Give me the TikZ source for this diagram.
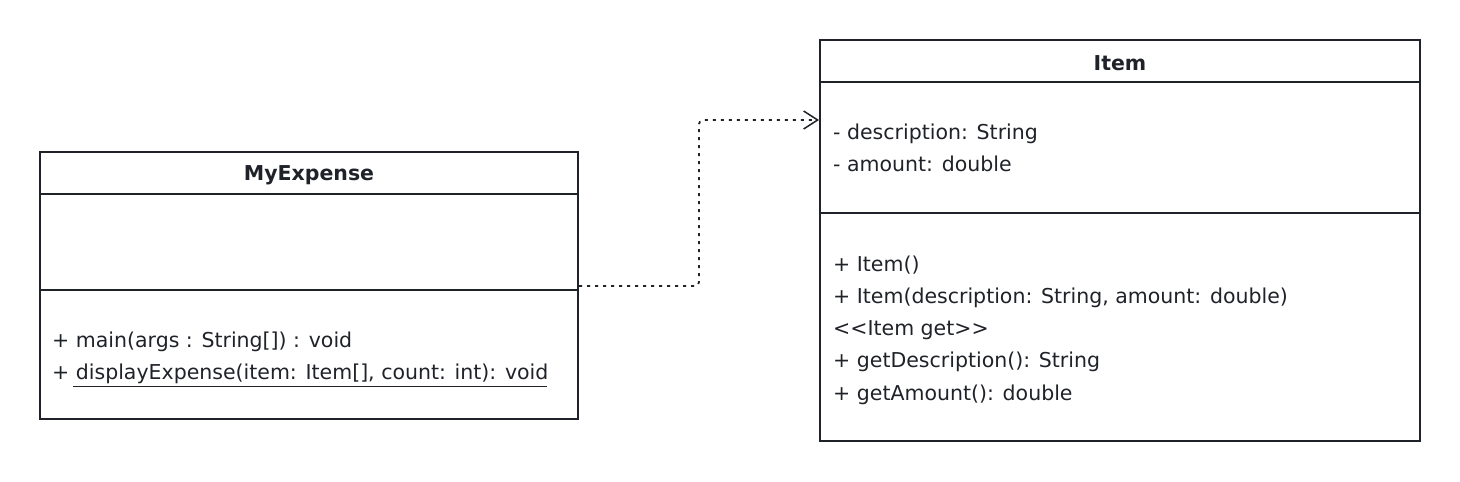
\documentclass[tikz,border=0pt]{standalone}
\usepackage{fontspec}
\setmainfont{DejaVu Sans}
\usetikzlibrary{arrows.meta}
\definecolor{ink}{HTML}{1F2228}
\tikzset{
  box/.style={draw=ink, line width=1.6pt, fill=none, inner sep=0pt, outer sep=0pt},
  sepline/.style={draw=ink, line width=1.6pt},
  title/.style={font=\fontsize{20.5}{24}\selectfont\bfseries, text=ink, inner sep=0pt},
  member/.style={font=\fontsize{20.5}{24}\selectfont, text=ink, inner sep=0pt, anchor=base west},
  dep/.style={draw=ink, line width=1.8pt, dash pattern=on 3pt off 5pt, rounded corners=4pt,
     -{Straight Barb[length=14pt,width=18pt,line width=1.5pt]}},
}
\begin{document}
\begin{tikzpicture}[x=1pt,y=-1pt]
\useasboundingbox (0,0) rectangle (1460,482);
% MyExpense
\node[box, minimum width=538pt, minimum height=267pt, anchor=north west] (mye) at (40,152) {};
\draw[sepline] (40,194) -- (578,194);
\draw[sepline] (40,290) -- (578,290);
\node[title] (myet) at (309,175) {MyExpense};
\node[member] (m1) at (52,347) {+ main(args : String[]) : void};
\node[member] (m2) at (52,379) {+ displayExpense(item: Item[], count: int): void};
\draw[ink, line width=1pt] (73,386) -- (547,386);
% Item
\node[box, minimum width=600pt, minimum height=401pt, anchor=north west] (item) at (820,40) {};
\draw[sepline] (820,82) -- (1420,82);
\draw[sepline] (820,213) -- (1420,213);
\node[title] (itemt) at (1120,63) {Item};
\node[member] (a1) at (833,139) {- description: String};
\node[member] (a2) at (833,171) {- amount: double};
\node[member] (o1) at (833,271) {+ Item()};
\node[member] (o2) at (833,303) {+ Item(description: String, amount: double)};
\node[member] (o3) at (833,335) {{<}{<}Item get{>}{>}};
\node[member] (o4) at (833,367) {+ getDescription(): String};
\node[member] (o5) at (833,400) {+ getAmount(): double};
% dependency
\coordinate (src) at (579,286);
\coordinate (tgt) at (819,120);
\draw[dep] (src) -- (699,286) -- (699,120) -- (tgt);
\end{tikzpicture}
\end{document}
